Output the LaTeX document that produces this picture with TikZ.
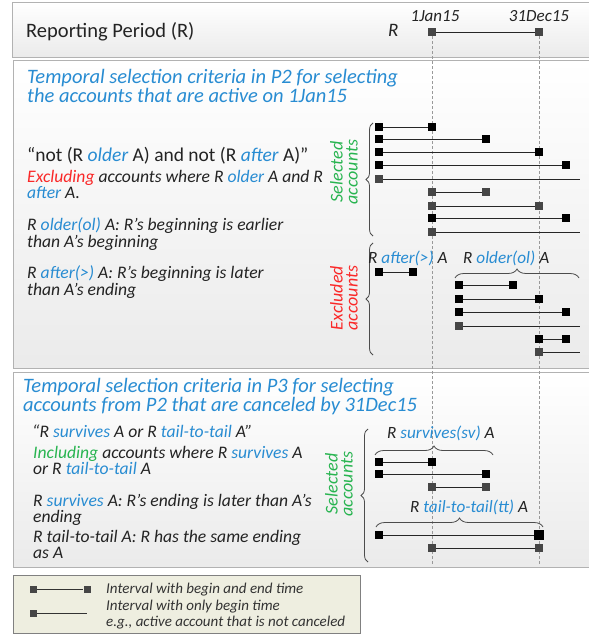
\documentclass[tikz,border=0pt]{standalone}
\usepackage{fontspec}
\setmainfont{Carlito}
\usetikzlibrary{decorations.pathreplacing}
\definecolor{tblue}{RGB}{40,140,210}
\definecolor{tred}{RGB}{250,40,40}
\definecolor{tgreen}{RGB}{40,180,80}
\definecolor{sqgray}{RGB}{70,70,70}
\definecolor{legbg}{RGB}{238,238,224}
\definecolor{ink}{RGB}{35,35,35}
\newcommand{\bl}[1]{{\color{tblue}#1}}
\newcommand{\ivl}[6]{\node[#5] (#1a) at (#3,#2) {};\node[#6] (#1b) at (#4,#2) {};\draw[ivline] (#1a) -- (#1b);}
\newcommand{\ivo}[4]{\node[#4] (#1a) at (#3,#2) {};\coordinate (#1b) at (580,#2);\draw[ivline] (#1a) -- (#1b);}
\begin{document}
\begin{tikzpicture}[x=1pt,y=-1pt,
 panel/.style={draw=black!30, top color=white, bottom color=black!8},
 bsq/.style={rectangle, fill=black, inner sep=0pt, minimum size=8pt},
 gsq/.style={rectangle, fill=sqgray, inner sep=0pt, minimum size=8pt},
 lsq/.style={rectangle, fill=sqgray, inner sep=0pt, minimum size=7pt},
 ivline/.style={draw=black!85, line width=0.9pt},
 vdash/.style={draw=black!40, line width=1pt, dash pattern=on 3pt off 2pt},
 ttl/.style={anchor=base west, inner sep=0pt, text=tblue, text height=13pt, text depth=3pt, font=\fontsize{20.5}{20}\selectfont\itshape},
 body/.style={anchor=base west, inner sep=0pt, text=ink, text height=13pt, text depth=3pt, font=\fontsize{19.5}{20}\selectfont},
 ibody/.style={anchor=base west, inner sep=0pt, text=ink, text height=11.5pt, text depth=3pt, font=\fontsize{17.6}{18}\selectfont\itshape},
 pbody/.style={anchor=base west, inner sep=0pt, text=ink, text height=11.5pt, text depth=3pt, font=\fontsize{17.6}{18}\selectfont\itshape},
 lab/.style={anchor=base west, inner sep=0pt, text=ink, font=\fontsize{17.2}{18}\selectfont\itshape},
 rot/.style={rotate=90, align=center, inner sep=0pt, font=\fontsize{18}{15}\selectfont\itshape},
 leg/.style={anchor=base west, inner sep=0pt, text height=10pt, text depth=3pt, font=\fontsize{15}{16}\selectfont\itshape, text=black!80},
 brc/.style={draw=black!70, line width=0.8pt, decorate, decoration={brace, amplitude=#1}},
]
\useasboundingbox (0,0) rectangle (588,636);
% panels
\path[panel] (12,2) rectangle (590,57);
\path[panel] (13,60) rectangle (590,368);
\path[panel] (13,372) rectangle (590,567);
\path[draw=black!50, fill=legbg] (13,575) rectangle (360,633);

% header
\node[anchor=base west, inner sep=0pt, text=ink, font=\fontsize{20.5}{20}\selectfont] (hdr) at (26,38) {Reporting Period (R)};
\node[anchor=base west, inner sep=0pt, text=ink, font=\fontsize{19}{20}\selectfont\itshape] (rlab) at (388,37) {R};
\node[anchor=base, inner sep=0pt, text=ink, font=\fontsize{17}{18}\selectfont\itshape] (jan) at (435,22) {1Jan15};
\node[anchor=base, inner sep=0pt, text=ink, font=\fontsize{17}{18}\selectfont\itshape] (dec) at (539,22) {31Dec15};
\coordinate (jbot) at (432,566);
\coordinate (dbot) at (539,566);
\node[gsq] (ra) at (432,32) {};
\node[gsq] (rb) at (539,32) {};
\draw[vdash] (ra) -- (jbot);
\draw[vdash] (rb) -- (dbot);
\draw[ivline] (ra) -- (rb);

% P2 text
\node[ttl] (t2a) at (27,84) {Temporal selection criteria in P2 for selecting};
\node[ttl] (t2b) at (27,102.5) {the accounts that are active on 1Jan15};
\node[body] (b1) at (27,162) {“not (R \bl{\itshape older} A) and not (R \bl{\itshape after} A)”};
\node[ibody] (b2) at (27,182.5) {{\color{tred}Excluding} accounts where R \bl{older} A and R};
\node[ibody] (b3) at (27,199) {\bl{after} A.};
\node[ibody] (b4) at (27,230.5) {R \bl{older(ol)} A: R’s beginning is earlier};
\node[ibody] (b5) at (27,247) {than A’s beginning};
\node[ibody] (b6) at (27,278) {R \bl{after(>)} A: R’s beginning is later};
\node[ibody] (b7) at (27,295) {than A’s ending};

% P2 selected
\node[rot, text=tgreen] (sel2) at (344,172) {Selected\\accounts};
\draw[brc=7] (373,236) -- (373,123);
\ivl{s1}{127}{379}{432}{bsq}{bsq}
\ivl{s2}{139}{379}{486}{bsq}{bsq}
\ivl{s3}{152}{379}{539}{bsq}{bsq}
\ivl{s4}{165}{379}{566}{bsq}{bsq}
\ivo{s5}{179}{379}{gsq}
\ivl{s6}{192}{432}{486}{gsq}{gsq}
\ivl{s7}{206}{432}{539}{gsq}{gsq}
\ivl{s8}{218}{432}{566}{bsq}{bsq}
\ivo{s9}{232}{432}{gsq}

% P2 excluded
\node[rot, text=tred] (exc2) at (344,298) {Excluded\\accounts};
\draw[brc=7] (373,355) -- (373,243);
\node[lab] (laft) at (368,263) {R \bl{after(>)} A};
\node[lab] (lold) at (463,263) {R \bl{older(ol)} A};
\draw[brc=9] (455,278) -- (579,278);
\ivl{e1}{272}{379}{413}{bsq}{bsq}
\ivl{e2}{285}{459}{513}{bsq}{bsq}
\ivl{e3}{299}{459}{539}{bsq}{bsq}
\ivl{e4}{312}{459}{566}{bsq}{bsq}
\ivo{e5}{326}{459}{gsq}
\ivl{e6}{339}{539}{566}{bsq}{bsq}
\ivo{e7}{352}{539}{gsq}

% P3 text
\node[ttl] (t3a) at (23,392.5) {Temporal selection criteria in P3 for selecting};
\node[ttl] (t3b) at (23,411.5) {accounts from P2 that are canceled by 31Dec15};
\node[pbody] (c1) at (32,437) {“R \bl{survives} A or R \bl{tail-to-tail} A”};
\node[pbody] (c2) at (33,458) {{\color{tgreen}Including} accounts where R \bl{survives} A};
\node[pbody] (c3) at (33,474) {or R \bl{tail-to-tail} A};
\node[pbody] (c4) at (33,506) {R \bl{survives} A: R’s ending is later than A's};
\node[pbody] (c5) at (33,522) {ending};
\node[pbody] (c6) at (33,542) {R tail-to-tail A: R has the same ending};
\node[pbody] (c7) at (33,558) {as A};

% P3 selected
\node[rot, text=tgreen] (sel3) at (339,484) {Selected\\accounts};
\draw[brc=7] (368,562) -- (368,429);
\node[lab] (lsv) at (387,438) {R \bl{survives(sv)} A};
\draw[brc=9] (375,455) -- (493,455);
\ivl{v1}{462}{379}{432}{bsq}{bsq}
\ivl{v2}{474}{379}{486}{bsq}{bsq}
\ivl{v3}{487}{432}{486}{gsq}{gsq}
\node[lab] (ltt) at (410,512) {R \bl{tail-to-tail(tt)} A};
\draw[brc=9] (376,527) -- (543,527);
\node[bsq] (w1a) at (379,535) {};
\node[bsq, minimum size=10pt] (w1b) at (539,535) {};
\draw[ivline] (w1a) -- (w1b);
\ivl{w2}{548}{432}{539}{gsq}{gsq}

% legend
\node[lsq] (la) at (33,589) {};
\node[lsq] (lb) at (87,589) {};
\draw[draw=black!80, line width=0.8pt] (la) -- (lb);
\node[lsq] (lc) at (33,613) {};
\coordinate (ld) at (87,613);
\draw[draw=black!80, line width=0.8pt] (lc) -- (ld);
\node[leg] (lt1) at (106,593) {Interval with begin and end time};
\node[leg] (lt2) at (106,610) {Interval with only begin time};
\node[leg] (lt3) at (106,626) {e.g., active account that is not canceled};
\end{tikzpicture}
\end{document}
